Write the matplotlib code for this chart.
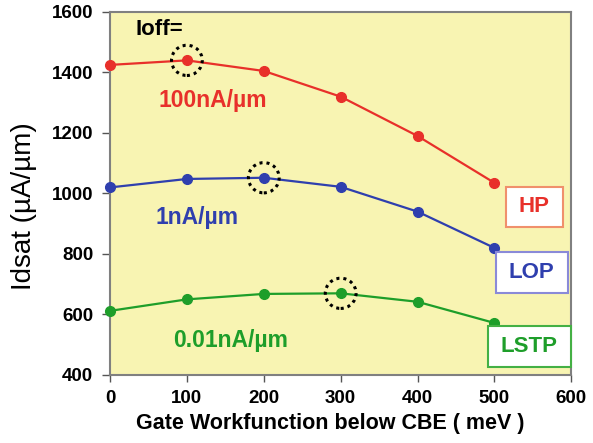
import matplotlib
matplotlib.use("Agg")
import matplotlib.pyplot as plt
from matplotlib.patches import Ellipse, Rectangle

plt.rcParams['font.family'] = ['Liberation Sans', 'DejaVu Sans']

# data
workfunction = [0, 100, 200, 300, 400, 500]          # meV
idsat_hp = [1425, 1440, 1405, 1320, 1190, 1035]       # uA/um, Ioff = 100nA/um
idsat_lop = [1020, 1048, 1052, 1022, 940, 820]        # Ioff = 1nA/um
idsat_lstp = [612, 650, 668, 670, 642, 572]           # Ioff = 0.01nA/um

# optimum (circled) point index for each series
best_hp = 1
best_lop = 2
best_lstp = 3

red = '#e8302a'
blue = '#2f3fae'
green = '#1e9e2a'

fig = plt.figure(figsize=(5.93, 4.43), dpi=100)
ax = fig.add_axes([0.1855, 0.1535, 0.778, 0.8195])
ax.set_facecolor('#f8f4b2')

series = [(idsat_hp, red, best_hp), (idsat_lop, blue, best_lop), (idsat_lstp, green, best_lstp)]
for vals, col, best in series:
    ax.plot(workfunction, vals, color=col, lw=1.6, marker='o', ms=7,
            mec=col, mfc=col, clip_on=False, zorder=3)
    # dotted circle round the optimum
    ax.add_patch(Ellipse((workfunction[best], vals[best]), 40, 100, fill=False,
                         ls=(0, (1, 1.3)), lw=2.2, ec='black', zorder=4))

ax.set_xlim(0, 600)
ax.set_ylim(400, 1600)
ax.set_xticks(range(0, 601, 100))
ax.set_yticks(range(400, 1601, 200))
ax.tick_params(axis='both', direction='out', width=1, color='#555555', labelsize=13.5)
ax.tick_params(axis='x', length=5, pad=6)
ax.tick_params(axis='y', length=6, pad=6)
for lab in ax.get_xticklabels() + ax.get_yticklabels():
    lab.set_fontweight('bold')
for sp in ax.spines.values():
    sp.set_color('#808080')
    sp.set_linewidth(1.5)

ax.set_xlabel('Gate Workfunction below CBE ( meV )', fontsize=15.5, fontweight='bold')
ax.xaxis.set_label_coords(0.477, -0.105)
ax.set_ylabel('Idsat (\u00b5A/\u00b5m)', fontsize=20)
ax.yaxis.set_label_coords(-0.158, 0.466)

# annotations
ax.text(33, 1541, 'Ioff=', fontsize=16, fontweight='bold', color='black', va='center')
ax.text(133, 1307, '100nA/\u00b5m', fontsize=16.5, fontweight='bold', color=red, ha='center', va='center')
ax.text(113, 922, '1nA/\u00b5m', fontsize=16.5, fontweight='bold', color=blue, ha='center', va='center')
ax.text(157, 515, '0.01nA/\u00b5m', fontsize=16.5, fontweight='bold', color=green, ha='center', va='center')

# labelled boxes: text, colour, edge colour, x0, x1, y0, y1
boxes = [('HP', red, '#f0906c', 515, 589, 888, 1023),
         ('LOP', blue, '#8a8ad8', 502, 595, 670, 805),
         ('LSTP', green, '#44b044', 491, 599, 426, 561)]
for txt, col, edge, x0, x1, y0, y1 in boxes:
    ax.add_patch(Rectangle((x0, y0), x1 - x0, y1 - y0, fc='white', ec=edge, lw=1.5,
                           clip_on=False, zorder=5))
    ax.text((x0 + x1) / 2, (y0 + y1) / 2, txt, fontsize=16, fontweight='bold', color=col,
            ha='center', va='center', zorder=6)

fig.savefig('out.png', dpi=100)
